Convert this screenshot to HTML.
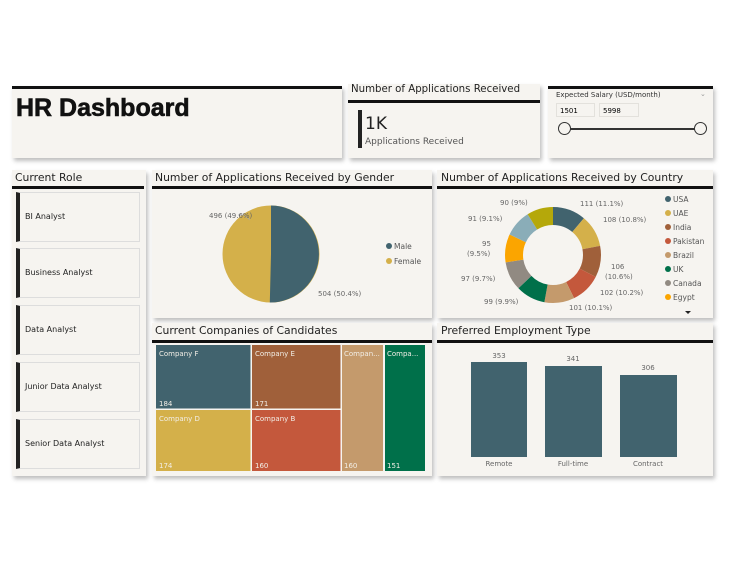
<!DOCTYPE html>
<html><head><meta charset="utf-8"><style>
body{margin:0;width:730px;height:564px;background:#fff;font-family:"DejaVu Sans","Liberation Sans",sans-serif;position:relative;overflow:hidden}
.p{position:absolute;background:#f6f4f0;box-shadow:2px 3px 4px rgba(0,0,0,.25)}
.t{position:absolute;font-size:10.8px;color:#222;white-space:nowrap}
.ul{position:absolute;height:3px;background:#111}
.btn{position:absolute;left:16px;width:124px;height:50px;background:#f6f4f0;border:1px solid #ddd;border-left:4px solid #222;box-sizing:border-box;font-size:8px;color:#222;line-height:48px;padding-left:5px}
</style></head><body>
<div class="p" style="left:12px;top:86px;width:330px;height:72px;border-top:3px solid #111;box-sizing:border-box"></div>
<div style="position:absolute;left:16px;top:94px;font:bold 25px 'Liberation Sans',sans-serif;color:#111;-webkit-text-stroke:0.6px #111">HR Dashboard</div>
<div class="p" style="left:348px;top:84px;width:192px;height:74px"></div>
<div class="t" style="left:351px;top:84px;font-size:10.2px">Number of Applications Received</div>
<div class="ul" style="left:348px;top:100px;width:192px"></div>
<div style="position:absolute;left:358px;top:110px;width:4px;height:38px;background:#222"></div>
<div style="position:absolute;left:365px;top:114px;font-size:17px;color:#222">1K</div>
<div style="position:absolute;left:365px;top:137px;font-size:9px;color:#555">Applications Received</div>
<div class="p" style="left:548px;top:86px;width:165px;height:72px;border-top:3px solid #111;box-sizing:border-box"></div>
<div style="position:absolute;left:556px;top:91px;font-size:7px;color:#333">Expected Salary (USD/month)</div>
<div style="position:absolute;left:700px;top:90px;font-size:7px;color:#999">⌄</div>
<div style="position:absolute;left:556px;top:103px;width:39px;height:14px;border:1px solid #e3e1dc;font-size:7px;line-height:14px;padding-left:3px;box-sizing:border-box">1501</div>
<div style="position:absolute;left:599px;top:103px;width:40px;height:14px;border:1px solid #e3e1dc;font-size:7px;line-height:14px;padding-left:3px;box-sizing:border-box">5998</div>
<div style="position:absolute;left:564px;top:128px;width:137px;height:1.5px;background:#333"></div>
<div style="position:absolute;left:558px;top:122px;width:11px;height:11px;border:1.3px solid #333;border-radius:50%;background:#f6f4f0"></div>
<div style="position:absolute;left:694px;top:122px;width:11px;height:11px;border:1.3px solid #333;border-radius:50%;background:#f6f4f0"></div>

<div class="p" style="left:12px;top:170px;width:134px;height:306px"></div>
<div class="t" style="left:15px;top:171px">Current Role</div>
<div class="ul" style="left:12px;top:186px;width:132px"></div>
<div class="btn" style="top:192px">BI Analyst</div>
<div class="btn" style="top:248px">Business Analyst</div>
<div class="btn" style="top:305px">Data Analyst</div>
<div class="btn" style="top:362px">Junior Data Analyst</div>
<div class="btn" style="top:419px">Senior Data Analyst</div>

<div class="p" style="left:152px;top:170px;width:280px;height:148px"></div>
<div class="t" style="left:155px;top:171px">Number of Applications Received by Gender</div>
<div class="ul" style="left:152px;top:186px;width:280px"></div>
<svg style="position:absolute;left:0;top:0" width="730" height="564">
<circle cx="271" cy="254" r="48.5" fill="#d4b04a"/>
<path d="M271,254 L271,205.5 A48.5,48.5 0 1 1 269.8,302.5 Z" fill="#41636e"/>
<path d="M238,215 L244,215 L250,220" stroke="#aaa" fill="none" stroke-width=".7"/>
<text x="209" y="218" font-size="7" fill="#666">496 (49.6%)</text>
<text x="318" y="296" font-size="7" fill="#666">504 (50.4%)</text>
<circle cx="389" cy="246" r="3" fill="#41636e"/><text x="394" y="249" font-size="7.5" fill="#555">Male</text>
<circle cx="389" cy="261" r="3" fill="#d4b04a"/><text x="394" y="264" font-size="7.5" fill="#555">Female</text>
</svg>

<div class="p" style="left:437px;top:170px;width:276px;height:148px"></div>
<div class="t" style="left:441px;top:171px">Number of Applications Received by Country</div>
<div class="ul" style="left:437px;top:186px;width:276px"></div>
<svg style="position:absolute;left:0;top:0" width="730" height="564">
<g transform="rotate(-90 553 255)" fill="none" stroke-width="18">
<circle cx="553" cy="255" r="39" stroke="#41636e" stroke-dasharray="27.2 300" stroke-dashoffset="0"/>
<circle cx="553" cy="255" r="39" stroke="#d4b04a" stroke-dasharray="26.46 300" stroke-dashoffset="-27.2"/>
<circle cx="553" cy="255" r="39" stroke="#a0603a" stroke-dasharray="25.97 300" stroke-dashoffset="-53.66"/>
<circle cx="553" cy="255" r="39" stroke="#c4583c" stroke-dasharray="24.99 300" stroke-dashoffset="-79.63"/>
<circle cx="553" cy="255" r="39" stroke="#c49a6c" stroke-dasharray="24.75 300" stroke-dashoffset="-104.62"/>
<circle cx="553" cy="255" r="39" stroke="#00704a" stroke-dasharray="24.26 300" stroke-dashoffset="-129.37"/>
<circle cx="553" cy="255" r="39" stroke="#918a82" stroke-dasharray="23.77 300" stroke-dashoffset="-153.63"/>
<circle cx="553" cy="255" r="39" stroke="#fba500" stroke-dasharray="23.28 300" stroke-dashoffset="-177.4"/>
<circle cx="553" cy="255" r="39" stroke="#8aadb8" stroke-dasharray="22.3 300" stroke-dashoffset="-200.68"/>
<circle cx="553" cy="255" r="39" stroke="#b5a80a" stroke-dasharray="22.06 300" stroke-dashoffset="-222.98"/>
</g>
<g font-size="7" fill="#666">
<text x="580" y="206">111 (11.1%)</text>
<text x="603" y="222">108 (10.8%)</text>
<text x="611" y="269">106</text><text x="605" y="279">(10.6%)</text>
<text x="600" y="295">102 (10.2%)</text>
<text x="569" y="310">101 (10.1%)</text>
<text x="484" y="304">99 (9.9%)</text>
<text x="461" y="281">97 (9.7%)</text>
<text x="482" y="246">95</text><text x="467" y="256">(9.5%)</text>
<text x="468" y="221">91 (9.1%)</text>
<text x="500" y="205">90 (9%)</text>
</g>
<g font-size="7.5" fill="#555">
<circle cx="668" cy="199" r="3" fill="#41636e"/><text x="673" y="202">USA</text>
<circle cx="668" cy="213" r="3" fill="#d4b04a"/><text x="673" y="216">UAE</text>
<circle cx="668" cy="227" r="3" fill="#a0603a"/><text x="673" y="230">India</text>
<circle cx="668" cy="241" r="3" fill="#c4583c"/><text x="673" y="244">Pakistan</text>
<circle cx="668" cy="255" r="3" fill="#c49a6c"/><text x="673" y="258">Brazil</text>
<circle cx="668" cy="269" r="3" fill="#00704a"/><text x="673" y="272">UK</text>
<circle cx="668" cy="283" r="3" fill="#918a82"/><text x="673" y="286">Canada</text>
<circle cx="668" cy="297" r="3" fill="#fba500"/><text x="673" y="300">Egypt</text>
</g>
<path d="M685,311 L691,311 L688,314 Z" fill="#222"/>
</svg>

<div class="p" style="left:152px;top:323px;width:280px;height:153px"></div>
<div class="t" style="left:155px;top:324px">Current Companies of Candidates</div>
<div class="ul" style="left:152px;top:340px;width:280px"></div>
<svg style="position:absolute;left:0;top:0" width="730" height="564" font-size="7" fill="#f2eee6">
<rect x="156" y="345" width="94.5" height="63.5" fill="#41636e"/>
<rect x="252" y="345" width="88.5" height="63.5" fill="#a0603a"/>
<rect x="156" y="410" width="94.5" height="61" fill="#d4b04a"/>
<rect x="252" y="410" width="88.5" height="61" fill="#c4583c"/>
<rect x="342" y="345" width="41" height="126" fill="#c49a6c"/>
<rect x="385" y="345" width="40" height="126" fill="#00704a"/>
<text x="159" y="356">Company F</text><text x="159" y="406">184</text>
<text x="255" y="356">Company E</text><text x="255" y="406">171</text>
<text x="159" y="421">Company D</text><text x="159" y="468">174</text>
<text x="255" y="421">Company B</text><text x="255" y="468">160</text>
<text x="344" y="356">Compan...</text><text x="344" y="468">160</text>
<text x="387" y="356">Compa...</text><text x="387" y="468">151</text>
</svg>

<div class="p" style="left:437px;top:323px;width:276px;height:153px"></div>
<div class="t" style="left:441px;top:324px">Preferred Employment Type</div>
<div class="ul" style="left:437px;top:340px;width:276px"></div>
<svg style="position:absolute;left:0;top:0" width="730" height="564" font-size="7" fill="#666" text-anchor="middle">
<rect x="471" y="362" width="56" height="95" fill="#41636e"/>
<rect x="545" y="366" width="57" height="91" fill="#41636e"/>
<rect x="620" y="375" width="57" height="82" fill="#41636e"/>
<text x="499" y="358">353</text><text x="573" y="361">341</text><text x="648" y="370">306</text>
<text x="499" y="466">Remote</text><text x="573" y="466">Full-time</text><text x="648" y="466">Contract</text>
</svg>
</body></html>
